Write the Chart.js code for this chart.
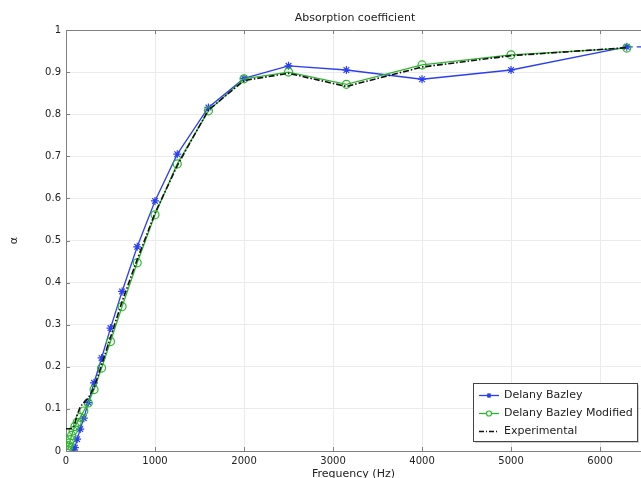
<!DOCTYPE html>
<html>
<head>
<meta charset="utf-8">
<script src="https://cdn.jsdelivr.net/npm/chart.js@4/dist/chart.umd.min.js"></script>
<style>
  html, body { margin: 0; padding: 0; background: #fff; overflow: hidden; }
  #wrap { width: 641px; height: 478px; }
  canvas { display: block; }
</style>
</head>
<body>
<div id="wrap"><canvas id="myChart" width="641" height="478"></canvas></div>
<script>
// third-octave band centre frequencies (Hz)
const freqDB = [80, 100, 125, 160, 200, 250, 315, 400, 500, 630, 800, 1000, 1250, 1600, 2000, 2500, 3150, 4000, 5000, 6300, 8000];
const alphaDB = [0.0, 0.008, 0.028, 0.052, 0.078, 0.115, 0.162, 0.221, 0.292, 0.379, 0.485, 0.594, 0.705, 0.816, 0.885, 0.915, 0.905, 0.883, 0.905, 0.960, 0.958];

const freqDBM = [20, 25, 31.5, 40, 50, 63, 80, 100, 125, 160, 200, 250, 315, 400, 500, 630, 800, 1000, 1250, 1600, 2000, 2500, 3150, 4000, 5000, 6300];
const alphaDBM = [0.003, 0.008, 0.013, 0.019, 0.027, 0.037, 0.048, 0.058, 0.068, 0.08, 0.095, 0.114, 0.146, 0.197, 0.260, 0.343, 0.447, 0.561, 0.682, 0.808, 0.884, 0.900, 0.871, 0.917, 0.941, 0.957];

const freqExp = [0, 63, 80, 100, 125, 160, 200, 250, 315, 400, 500, 630, 800, 1000, 1250, 1600, 2000, 2500, 3150, 4000, 5000, 6300];
const alphaExp = [0.053, 0.053, 0.056, 0.066, 0.085, 0.105, 0.115, 0.126, 0.150, 0.205, 0.270, 0.355, 0.455, 0.565, 0.678, 0.810, 0.880, 0.897, 0.866, 0.912, 0.939, 0.958];

const xTicks = [0, 1000, 2000, 3000, 4000, 5000, 6000];
const yTicks = [0, 0.1, 0.2, 0.3, 0.4, 0.5, 0.6, 0.7, 0.8, 0.9, 1];

const FONT = 'DejaVu Sans, sans-serif';
const blue = '#2a3ff0';
const green = '#2db52d';
const black = '#111111';

const toXY = (xs, ys) => xs.map((x, i) => ({ x: x, y: ys[i] }));

// inward tick marks, top frame line, title, legend box
const decorations = {
    id: 'decorations',
    afterDraw(chart) {
        const c = chart.ctx;
        const a = chart.chartArea;
        const xs = chart.scales.x, ys = chart.scales.y;
        c.save();
        c.strokeStyle = '#808080';
        c.lineWidth = 1;
        c.beginPath();
        c.moveTo(a.left, a.top + 0.5);
        c.lineTo(a.right, a.top + 0.5);
        xTicks.forEach(t => {
            const px = Math.round(xs.getPixelForValue(t)) + 0.5;
            c.moveTo(px, a.bottom); c.lineTo(px, a.bottom - 4);
            c.moveTo(px, a.top); c.lineTo(px, a.top + 4);
        });
        yTicks.forEach(t => {
            const py = Math.round(ys.getPixelForValue(t)) + 0.5;
            c.moveTo(a.left, py); c.lineTo(a.left + 4, py);
        });
        c.stroke();

        // title
        c.fillStyle = '#222';
        c.font = '11px ' + FONT;
        c.textAlign = 'center';
        c.textBaseline = 'middle';
        c.fillText('Absorption coefficient', 355, 18);

        // legend
        const lx = 473, ly = 383, lw = 164, lh = 58;
        c.fillStyle = 'rgba(0,0,0,0.18)';
        c.fillRect(lx + 2, ly + 2, lw, lh);
        c.fillStyle = '#fff';
        c.fillRect(lx, ly, lw, lh);
        c.strokeStyle = '#444';
        c.strokeRect(lx + 0.5, ly + 0.5, lw, lh);
        const items = [
            { label: 'Delany Bazley', color: blue, mark: 'star' },
            { label: 'Delany Bazley Modified', color: green, mark: 'circle' },
            { label: 'Experimental', color: black, mark: null }
        ];
        items.forEach((it, i) => {
            const cy = ly + 12.5 + i * 18;
            c.strokeStyle = it.color;
            c.lineWidth = it.mark ? 1.3 : 1.5;
            c.setLineDash(it.mark ? [] : [5, 2, 1, 2]);
            c.beginPath();
            c.moveTo(lx + 6, cy); c.lineTo(lx + 26, cy);
            c.stroke();
            c.setLineDash([]);
            if (it.mark) {
                c.fillStyle = '#fff';
                c.lineWidth = 1.2;
                Chart.helpers.drawPoint(c, { pointStyle: it.mark, radius: 2.5, borderWidth: 1.2 }, lx + 16, cy);
            }
            c.fillStyle = '#222';
            c.font = '11px ' + FONT;
            c.textAlign = 'left';
            c.fillText(it.label, lx + 31, cy);
        });
        c.restore();
    }
};

const plainNum = v => String(Math.round(v * 1000) / 1000);

const ctx = document.getElementById('myChart').getContext('2d');
const myChart = new Chart(ctx, {
    type: 'line',
    data: {
        datasets: [{
            label: 'Delany Bazley',
            data: toXY(freqDB, alphaDB),
            borderColor: blue,
            backgroundColor: 'rgba(0,0,0,0)',
            borderWidth: 1.3,
            pointStyle: 'star',
            pointRadius: 4,
            pointBorderWidth: 1.2,
            pointBorderColor: blue,
            segment: {
                borderDash: s => s.p0DataIndex >= freqDB.length - 2 ? [6, 4] : undefined
            },
            order: 3
        }, {
            label: 'Delany Bazley Modified',
            data: toXY(freqDBM, alphaDBM),
            borderColor: green,
            backgroundColor: 'rgba(0,0,0,0)',
            borderWidth: 1.3,
            pointStyle: 'circle',
            pointRadius: 4,
            pointBorderWidth: 1.2,
            pointBorderColor: green,
            order: 2
        }, {
            label: 'Experimental',
            data: toXY(freqExp, alphaExp),
            borderColor: black,
            borderWidth: 1.6,
            borderDash: [6, 2, 1.5, 2],
            pointRadius: 0,
            order: 1
        }]
    },
    options: {
        responsive: false,
        animation: false,
        layout: { autoPadding: false, padding: { top: 30, right: 0, left: 0, bottom: 0 } },
        plugins: {
            legend: { display: false },
            title: { display: false },
            tooltip: { enabled: false }
        },
        elements: { line: { tension: 0 } },
        scales: {
            x: {
                type: 'linear',
                min: 0,
                max: 6460,
                afterBuildTicks: s => { s.ticks = xTicks.map(v => ({ value: v })); },
                afterFit: s => { s.height = 27; s.paddingRight = 0; },
                grid: { color: '#ebebeb', drawTicks: false },
                border: { color: '#808080' },
                ticks: { color: '#222', font: { family: FONT, size: 10 }, padding: 4, maxRotation: 0, callback: plainNum },
                title: { display: true, text: 'Frequency (Hz)', color: '#222', font: { family: FONT, size: 11 }, padding: { top: 0, bottom: -3 } }
            },
            y: {
                min: 0,
                max: 1,
                afterBuildTicks: s => { s.ticks = yTicks.map(v => ({ value: v })); },
                afterFit: s => { s.width = 66; },
                grid: { color: '#ebebeb', drawTicks: false },
                border: { color: '#808080' },
                ticks: { color: '#222', font: { family: FONT, size: 10 }, padding: 5, callback: plainNum },
                title: { display: true, text: 'α', color: '#222', font: { family: FONT, size: 11 }, padding: { top: 8, bottom: 0 } }
            }
        }
    },
    plugins: [decorations]
});
</script>
</body>
</html>
